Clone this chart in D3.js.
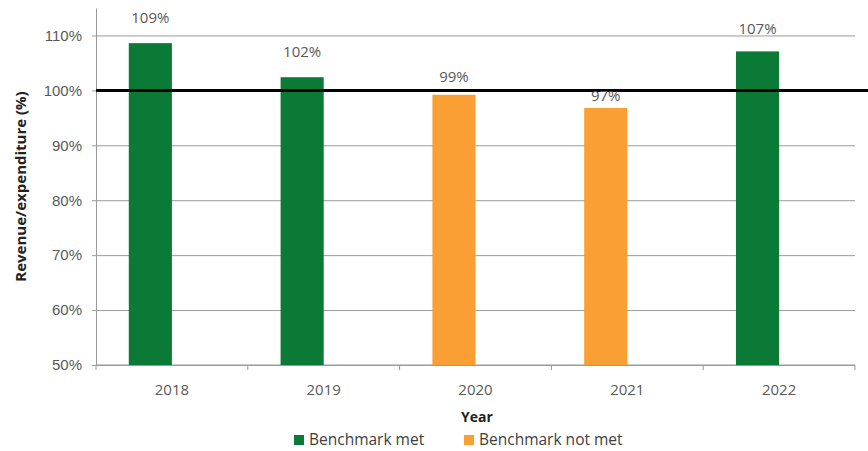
<!DOCTYPE html>
<html>
<head>
<meta charset="utf-8">
<script src="https://cdn.jsdelivr.net/npm/d3@7"></script>
<style>
  html, body { margin: 0; padding: 0; background: #fff; }
  svg { display: block; font-family: "Open Sans", "Liberation Sans", sans-serif; }
</style>
</head>
<body>
<svg id="chart" width="868" height="451"></svg>
<script>
// Revenue as a share of expenditure, by year
const years = ["2018", "2019", "2020", "2021", "2022"];
const ratio = [108.6, 102.4, 99.2, 96.8, 107.1];
const benchmarkMet = [true, true, false, false, true];
const yTicks = [50, 60, 70, 80, 90, 100, 110];
const benchmark = 100;
const legendLabels = ["Benchmark met", "Benchmark not met"];

const GREEN = "#0c7a37";
const ORANGE = "#f99f34";
const GRID = "#9a9a9a";
const TEXT = "#595959";

// per-bar vertical nudge of the value label above the bar top
const labelGap = [20, 20, 13, 7, 17];

const svg = d3.select("#chart");
const m = { left: 96, right: 13, top: 8, bottom: 86 };
const W = 868, H = 451;

const x = d3.scaleBand().domain(years).range([m.left, W - m.right]).padding(0);
const y = d3.scaleLinear().domain([50, 115]).range([H - m.bottom, m.top]);
const barW = x.bandwidth() * 0.284;

// horizontal gridlines with outward tick marks
const yAxis = d3.axisLeft(y).tickValues(yTicks)
  .tickSize(-(W - m.right - m.left)).tickSizeOuter(0)
  .tickFormat(d => d + "%").tickPadding(14);
const gy = svg.append("g").attr("transform", `translate(${m.left},0)`).call(yAxis);
gy.select(".domain").attr("stroke", GRID);
gy.selectAll(".tick line").attr("stroke", GRID).attr("x1", -4);
gy.selectAll(".tick text").attr("fill", TEXT).style("font-size", "15px");

// x axis baseline with ticks at category boundaries
const gx = svg.append("g").attr("transform", `translate(0,${y(50)})`);
gx.append("line").attr("x1", m.left).attr("x2", W - m.right)
  .attr("stroke", GRID);
const bounds = years.map(d => x(d)).concat([x(years[years.length - 1]) + x.bandwidth()]);
gx.selectAll(".bt").data(bounds).join("line")
  .attr("x1", d => d).attr("x2", d => d).attr("y1", 0).attr("y2", 5)
  .attr("stroke", GRID);
gx.selectAll(".xl").data(years).join("text")
  .attr("x", d => x(d) + x.bandwidth() / 2).attr("y", 30)
  .attr("text-anchor", "middle").attr("fill", TEXT)
  .style("font-size", "15px").text(d => d);

// bars
const rows = years.map((yr, i) => ({ yr, v: ratio[i], met: benchmarkMet[i], gap: labelGap[i] }));
const cx = d => x(d.yr) + x.bandwidth() / 2 - barW / 2;
svg.append("g").selectAll("rect").data(rows).join("rect")
  .attr("x", d => cx(d) - barW / 2).attr("width", barW)
  .attr("y", d => y(d.v)).attr("height", d => y(50) - y(d.v))
  .attr("fill", d => d.met ? GREEN : ORANGE);

// benchmark line at 100%
svg.append("line").attr("x1", m.left).attr("x2", W)
  .attr("y1", y(benchmark)).attr("y2", y(benchmark))
  .attr("stroke", "#000").attr("stroke-width", 3);

// value labels
svg.append("g").selectAll("text").data(rows).join("text")
  .attr("x", d => cx(d)).attr("y", d => y(d.v) - d.gap)
  .attr("text-anchor", "middle").attr("fill", TEXT)
  .style("font-size", "15px").text(d => d3.format(".0f")(d.v) + "%");

// axis titles
svg.append("text")
  .attr("transform", `translate(26,${(y(50) + y(115)) / 2}) rotate(-90)`)
  .attr("text-anchor", "middle").attr("fill", "#222")
  .style("font-size", "15px").style("font-weight", "bold")
  .text("Revenue/expenditure (%)");
svg.append("text").attr("x", 477).attr("y", 422)
  .attr("text-anchor", "middle").attr("fill", "#222")
  .style("font-size", "14px").style("font-weight", "bold").text("Year");

// legend
const lg = svg.append("g");
const legendX = [294, 464];
legendLabels.forEach((t, i) => {
  lg.append("rect").attr("x", legendX[i]).attr("y", 435).attr("width", 10).attr("height", 10)
    .attr("fill", i === 0 ? GREEN : ORANGE);
  lg.append("text").attr("x", legendX[i] + 15).attr("y", 445)
    .attr("fill", "#404040").style("font-size", "15.5px").text(t);
});
</script>
</body>
</html>
